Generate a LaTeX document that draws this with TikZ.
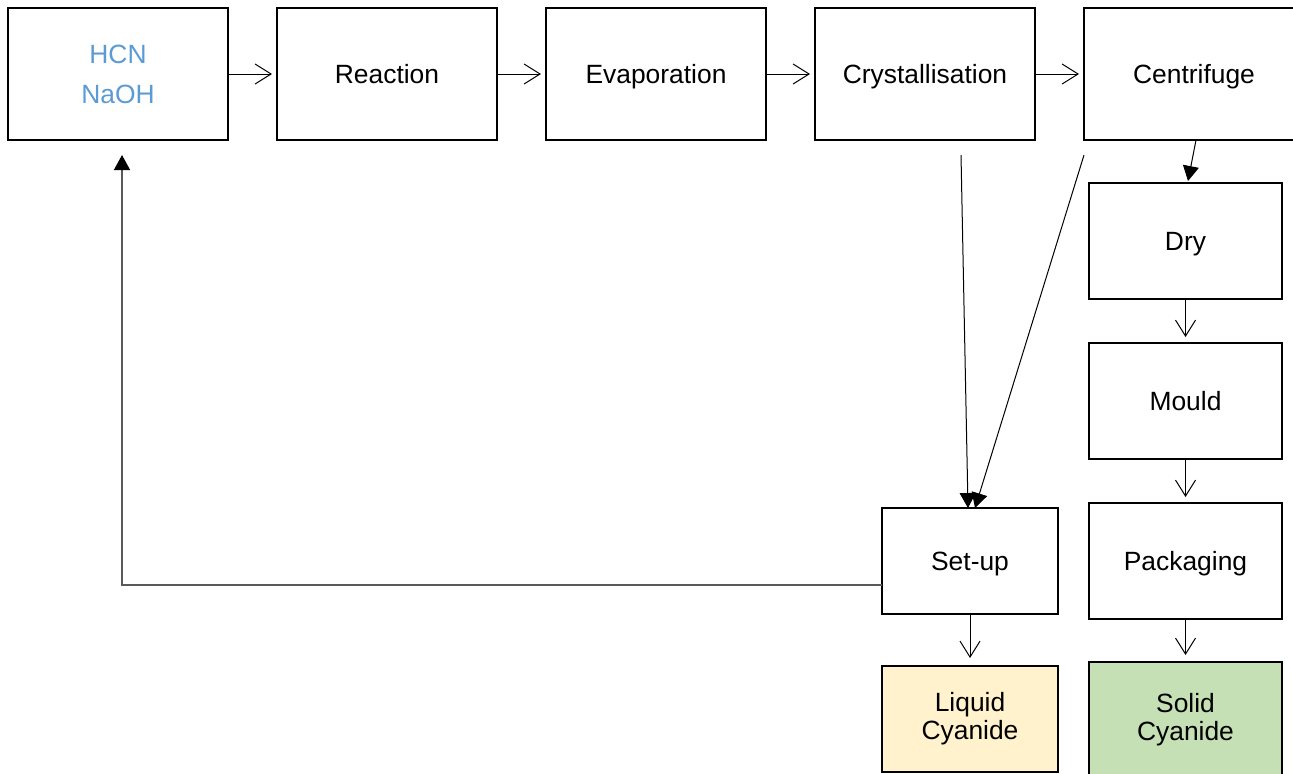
\documentclass[tikz,border=0pt]{standalone}
\usepackage{fontspec}
\setmainfont{Liberation Sans}
\usetikzlibrary{positioning,arrows.meta}
\definecolor{feedblue}{HTML}{5B9BD5}
\definecolor{liquidfill}{HTML}{FFF2CC}
\definecolor{solidfill}{HTML}{C5E0B4}
\begin{document}
\begin{tikzpicture}[node distance=24.5pt, auto, font=\fontsize{13.2}{14}\selectfont]
    \tikzstyle{stage} = [rectangle, draw, line width=1.25pt, inner sep=0pt, outer sep=0pt, minimum width=110pt, minimum height=66pt, align=center, text height=11pt, text depth=1.6pt]
    \tikzstyle{twoline} = [text height={}, text depth={}]
    \tikzstyle{substage} = [stage, minimum width=96.5pt, minimum height=58pt]
    \tikzstyle{outstage} = [stage, minimum width=88pt, minimum height=53pt]
    \tikzstyle{flow} = [-{Straight Barb[length=8pt,width=10pt]}, line width=0.5pt]
    \tikzstyle{feed} = [-{Triangle[length=7.5pt,width=8pt,color=black]}, line width=0.5pt]
    \useasboundingbox (0,0) rectangle (646.5pt,-386.5pt);

    \node [stage, twoline, text=feedblue, font=\fontsize{13.2}{20}\selectfont] (raw) at (59pt,-37pt) {HCN\\NaOH};
    \node [stage, right=of raw] (reaction) {Reaction};
    \node [stage, right=of reaction] (evap) {Evaporation};
    \node [stage, right=of evap] (cryst) {Crystallisation};
    \node [stage, right=of cryst] (centr) {Centrifuge};

    \node [substage, below=21.5pt of centr, xshift=-4.25pt] (dry) {Dry};
    \node [substage, below=22pt of dry] (mould) {Mould};
    \node [substage, below=22pt of mould] (pack) {Packaging};
    \node [substage, twoline, below=21.5pt of pack, fill=solidfill] (solid) {Solid\\Cyanide};

    \node [outstage, left=15.5pt of pack] (setup) {Set-up};
    \node [outstage, twoline, below=26pt of setup, fill=liquidfill] (liquid) {Liquid\\Cyanide};

    \draw [flow, shorten >=2.5pt] (raw) -- (reaction);
    \draw [flow, shorten >=2.5pt] (reaction) -- (evap);
    \draw [flow, shorten >=2.5pt] (evap) -- (cryst);
    \draw [flow, shorten >=2.5pt] (cryst) -- (centr);
    \draw [flow, shorten >=3pt] (dry) -- (mould);
    \draw [flow, shorten >=3pt] (mould) -- (pack);
    \draw [flow, shorten >=3.5pt] (pack) -- (solid);
    \draw [flow, shorten >=4pt] (setup) -- (liquid);

    \draw [feed] ([xshift=1pt]centr.south) -- ([xshift=1.25pt,yshift=1pt]dry.north);
    \draw [feed] ([xshift=18pt,yshift=-7.5pt]cryst.south) -- ([xshift=-1pt]setup.north);
    \draw [feed] ([yshift=-7.5pt]centr.south west) -- ([xshift=2.5pt]setup.north);
    \draw [feed, draw=black!65, line width=0.7pt] ([yshift=-12pt]setup.west) -| ([xshift=2pt,yshift=-7.5pt]raw.south);
\end{tikzpicture}
\end{document}
